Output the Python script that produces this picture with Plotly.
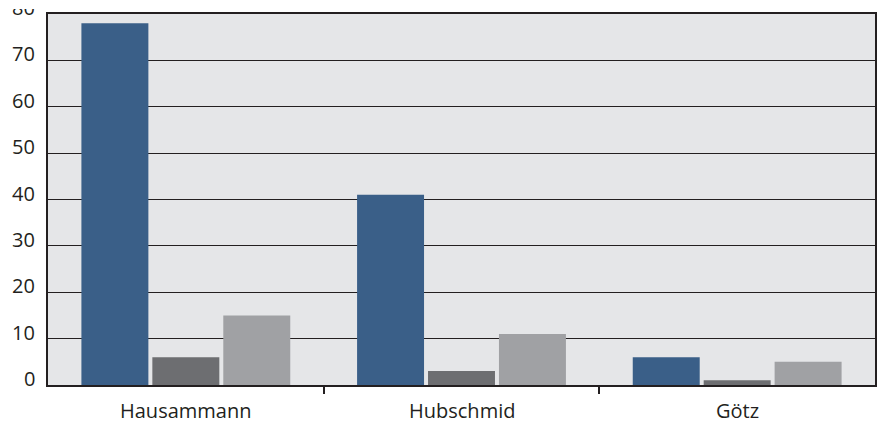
import plotly.graph_objects as go

categories = ["Hausammann", "Hubschmid", "Götz"]
series_a = [78, 41, 6]
series_b = [6, 3, 1]
series_c = [15, 11, 5]
y_ticks = [0, 10, 20, 30, 40, 50, 60, 70, 80]
boundary_ticks = [0.5, 1.5]

colors = ["#3a5f88", "#6d6e71", "#a0a1a4"]
font = dict(family="Open Sans", size=20, color="#231f20")

fig = go.Figure()
for vals, col in zip([series_a, series_b, series_c], colors):
    fig.add_trace(go.Bar(x=categories, y=vals, marker=dict(color=col, line=dict(width=0))))
# empty helper trace so the overlay axis carrying the boundary ticks is drawn
fig.add_trace(go.Scatter(x=[], y=[], xaxis="x2", yaxis="y", hoverinfo="skip", showlegend=False))

for t in y_ticks:
    fig.add_annotation(
        x=0, xref="paper", y=t, yref="y", text=str(t), showarrow=False,
        xanchor="right", yanchor="middle", xshift=-11, yshift=6.5, font=font,
    )
for c in categories:
    fig.add_annotation(
        x=c, xref="x", y=0, yref="paper", text=c, showarrow=False,
        xanchor="center", yanchor="middle", yshift=-25, font=font,
    )

fig.update_layout(
    width=882, height=424,
    margin=dict(l=48, r=7, t=14, b=39),
    paper_bgcolor="white",
    plot_bgcolor="#e5e6e8",
    barmode="group",
    bargap=0.228,
    bargroupgap=0.056,
    showlegend=False,
    font=font,
    xaxis=dict(
        automargin=False, showline=True, mirror=True, linecolor="#231f20", linewidth=1.5,
        ticks="", showgrid=False, showticklabels=False,
    ),
    xaxis2=dict(
        overlaying="x", anchor="y", side="bottom", range=[-0.5, len(categories) - 0.5],
        tickvals=boundary_ticks, ticks="outside", ticklen=8, tickwidth=1.5,
        tickcolor="#231f20", showticklabels=False, showgrid=False, showline=False,
        zeroline=False, automargin=False,
    ),
    yaxis=dict(
        automargin=False, range=[0, 80], tickvals=y_ticks, showticklabels=False,
        showline=True, mirror=True, linecolor="#231f20", linewidth=1.5,
        showgrid=True, gridcolor="#231f20", gridwidth=1.2, zeroline=False, ticks="",
    ),
)
fig.write_html(
    "out.html",
    config={"displayModeBar": False},
    post_script="document.body.style.margin='0px';"
                "document.getElementById('{plot_id}').style.clipPath='inset(9px 0px 0px 0px)';",
)
